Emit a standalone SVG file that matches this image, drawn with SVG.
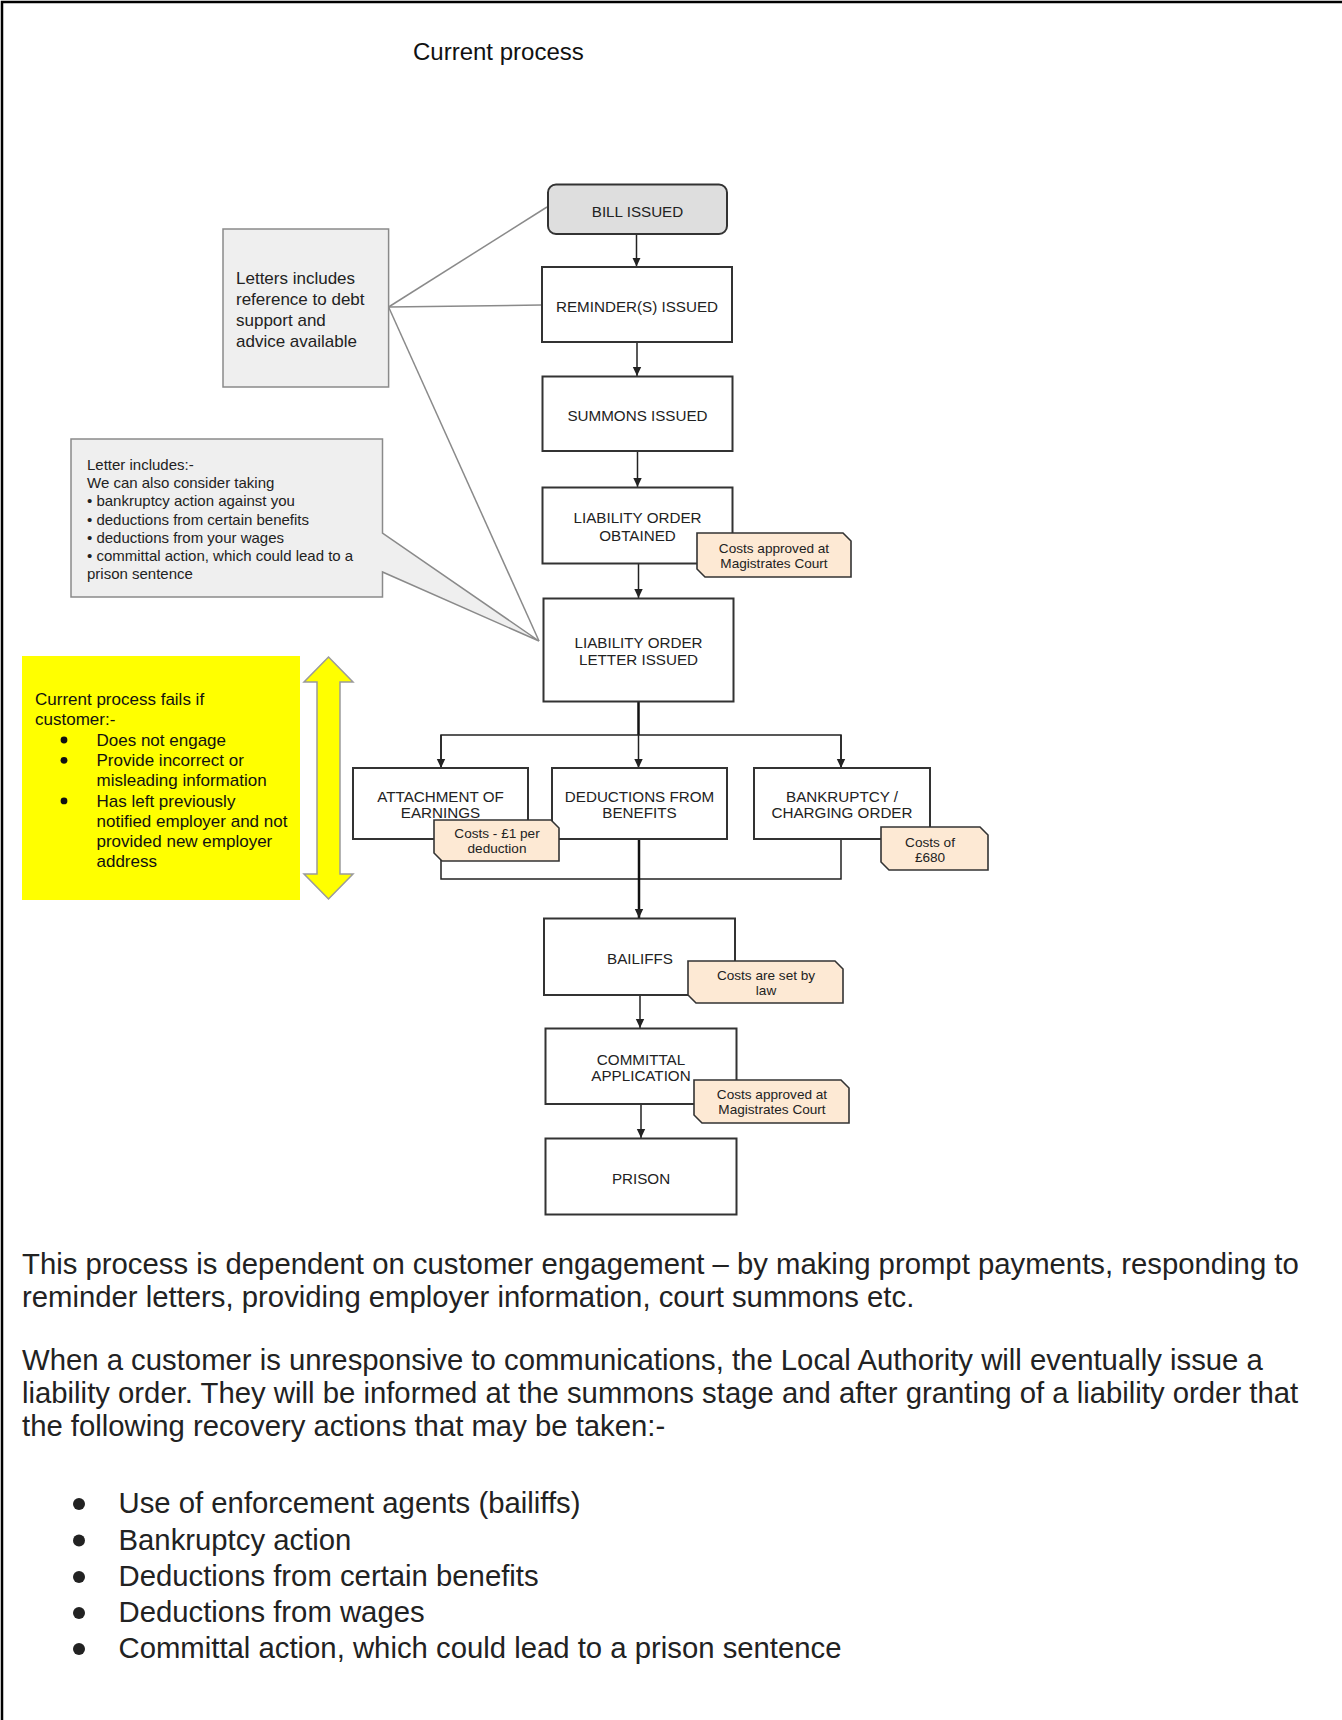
<svg xmlns="http://www.w3.org/2000/svg" width="1342" height="1720" viewBox="0 0 1342 1720">
<style>
  text { font-family: "Liberation Sans", Arial, sans-serif; }
  .box { fill: #ffffff; stroke: #333333; stroke-width: 2; }
  .lbl { font-size: 15.2px; fill: #222222; text-anchor: middle; }
  .note { fill: #fde9d4; stroke: #333333; stroke-width: 1.6; }
  .nt { font-size: 13.6px; fill: #222222; text-anchor: middle; }
  .grey { fill: #efefef; stroke: #8a8a8a; stroke-width: 1.5; }
  .gline { fill: none; stroke: #8a8a8a; stroke-width: 1.5; }
  .conn { fill: none; stroke: #222222; stroke-width: 1.5; }
  .thick { fill: none; stroke: #111111; stroke-width: 2.5; }
  .body { font-size: 29.3px; fill: #222222; }
  .ybox { font-size: 17px; fill: #111111; }
  .call { font-size: 15px; fill: #222222; }
</style>
<defs>
  <marker id="ah" markerUnits="userSpaceOnUse" markerWidth="10" markerHeight="10" refX="9" refY="5" orient="auto">
    <path d="M0,0.8 L9,5 L0,9.2 Z" fill="#222222"/>
  </marker>
</defs>

<path d="M2,1720 V2 H1342" fill="none" stroke="#000000" stroke-width="2.5"/>

<text x="413" y="60" style="font-size:24px;fill:#111111">Current process</text>

<g id="connectors">
  <line class="gline" x1="388.6" y1="307" x2="547" y2="207"/>
  <line class="gline" x1="388.6" y1="307" x2="541.5" y2="305"/>
  <line class="gline" x1="388.6" y1="307" x2="539" y2="641"/>
  <line class="conn" x1="636.5" y1="234" x2="636.5" y2="266.5" marker-end="url(#ah)"/>
  <line class="conn" x1="637" y1="342" x2="637" y2="376" marker-end="url(#ah)"/>
  <line class="conn" x1="637.5" y1="451" x2="637.5" y2="487" marker-end="url(#ah)"/>
  <line class="conn" x1="638.5" y1="563.5" x2="638.5" y2="598" marker-end="url(#ah)"/>
  <line class="thick" x1="638.5" y1="701.5" x2="638.5" y2="735"/>
  <polyline class="conn" points="441,768 441,735 841,735 841,768"/>
  <line class="conn" x1="441" y1="735" x2="441" y2="768" marker-end="url(#ah)"/>
  <line class="conn" x1="841" y1="735" x2="841" y2="768" marker-end="url(#ah)"/>
  <line class="conn" x1="638.5" y1="735" x2="638.5" y2="768" marker-end="url(#ah)"/>
  <polyline class="conn" points="441,839 441,879 841,879 841,839"/>
  <line class="thick" x1="639" y1="839" x2="639" y2="918" marker-end="url(#ah)"/>
  <line class="conn" x1="640" y1="995" x2="640" y2="1028" marker-end="url(#ah)"/>
  <line class="conn" x1="641" y1="1104" x2="641" y2="1138" marker-end="url(#ah)"/>
</g>

<g id="letters-note">
  <rect class="grey" x="223" y="229" width="165.6" height="158"/>
  <text class="ybox" style="fill:#222222" x="236" y="284">Letters includes</text>
  <text class="ybox" style="fill:#222222" x="236" y="305">reference to debt</text>
  <text class="ybox" style="fill:#222222" x="236" y="326">support and</text>
  <text class="ybox" style="fill:#222222" x="236" y="347">advice available</text>
</g>

<g id="letter-callout">
  <path class="grey" d="M71,439 H382.5 V533 L539,641 L382.5,572 V597 H71 Z"/>
  <text class="call" x="87" y="470">Letter includes:-</text>
  <text class="call" x="87" y="488.2">We can also consider taking</text>
  <text class="call" x="87" y="506.4">• bankruptcy action against you</text>
  <text class="call" x="87" y="524.6">• deductions from certain benefits</text>
  <text class="call" x="87" y="542.8">• deductions from your wages</text>
  <text class="call" x="87" y="561">• committal action, which could lead to a</text>
  <text class="call" x="87" y="579.2">prison sentence</text>
</g>

<g id="fails-box">
  <rect x="22" y="656" width="278" height="244" fill="#ffff00"/>
  <text class="ybox" x="35" y="705">Current process fails if</text>
  <text class="ybox" x="35" y="725.3">customer:-</text>
  <circle cx="64" cy="740" r="3.4" fill="#111111"/>
  <text class="ybox" x="96.5" y="745.6">Does not engage</text>
  <circle cx="64" cy="760.3" r="3.4" fill="#111111"/>
  <text class="ybox" x="96.5" y="765.9">Provide incorrect or</text>
  <text class="ybox" x="96.5" y="786.2">misleading information</text>
  <circle cx="64" cy="800.9" r="3.4" fill="#111111"/>
  <text class="ybox" x="96.5" y="806.5">Has left previously</text>
  <text class="ybox" x="96.5" y="826.8">notified employer and not</text>
  <text class="ybox" x="96.5" y="847.1">provided new employer</text>
  <text class="ybox" x="96.5" y="867.4">address</text>
</g>

<g id="double-arrow">
  <path d="M328.5,657 L353,682 L340,682 L340,874 L353,874 L328.5,899 L304,874 L317,874 L317,682 L304,682 Z" fill="#ffff00" stroke="#9a9a9a" stroke-width="1.5"/>
</g>

<g id="bill-issued">
  <rect x="548" y="184.5" width="179" height="49.5" rx="8" fill="#dedede" stroke="#333333" stroke-width="2"/>
  <text class="lbl" x="637.5" y="217">BILL ISSUED</text>
</g>

<g id="reminders-issued">
  <rect class="box" x="542" y="267" width="190" height="75"/>
  <text class="lbl" x="637" y="312">REMINDER(S) ISSUED</text>
</g>

<g id="summons-issued">
  <rect class="box" x="542.5" y="376.5" width="190" height="74.5"/>
  <text class="lbl" x="637.5" y="421">SUMMONS ISSUED</text>
</g>

<g id="liability-order-obtained">
  <rect class="box" x="542.5" y="487.5" width="190" height="76"/>
  <text class="lbl" x="637.5" y="523">LIABILITY ORDER</text>
  <text class="lbl" x="637.5" y="540.5">OBTAINED</text>
</g>

<g id="note-lo-costs">
  <path class="note" d="M697,533 H843 L851,541 V577 H705 L697,569 Z"/>
  <text class="nt" x="774" y="552.5">Costs approved at</text>
  <text class="nt" x="774" y="568">Magistrates Court</text>
</g>

<g id="liability-order-letter">
  <rect class="box" x="543.5" y="598.5" width="190" height="103"/>
  <text class="lbl" x="638.5" y="648">LIABILITY ORDER</text>
  <text class="lbl" x="638.5" y="664.5">LETTER ISSUED</text>
</g>

<g id="attachment-of-earnings">
  <rect class="box" x="353" y="768" width="175" height="71"/>
  <text class="lbl" x="440.5" y="802">ATTACHMENT OF</text>
  <text class="lbl" x="440.5" y="818">EARNINGS</text>
</g>

<g id="deductions-from-benefits">
  <rect class="box" x="552" y="768" width="175" height="71"/>
  <text class="lbl" x="639.5" y="802">DEDUCTIONS FROM</text>
  <text class="lbl" x="639.5" y="818">BENEFITS</text>
</g>

<g id="bankruptcy-charging-order">
  <rect class="box" x="754" y="768" width="176" height="71"/>
  <text class="lbl" x="842" y="802">BANKRUPTCY /</text>
  <text class="lbl" x="842" y="818">CHARGING ORDER</text>
</g>

<g id="note-attachment-costs">
  <path class="note" d="M434,820 H551 L559,828 V861 H442 L434,853 Z"/>
  <text class="nt" x="497" y="838">Costs - £1 per</text>
  <text class="nt" x="497" y="853">deduction</text>
</g>

<g id="note-bankruptcy-costs">
  <path class="note" d="M881,827 H980 L988,835 V870 H889 L881,862 Z"/>
  <text class="nt" x="930" y="847">Costs of</text>
  <text class="nt" x="930" y="862">£680</text>
</g>

<g id="bailiffs">
  <rect class="box" x="544" y="918.5" width="191" height="76.5"/>
  <text class="lbl" x="640" y="963.5">BAILIFFS</text>
</g>

<g id="note-bailiffs-costs">
  <path class="note" d="M688,961 H835 L843,969 V1003 H696 L688,995 Z"/>
  <text class="nt" x="766" y="980">Costs are set by</text>
  <text class="nt" x="766" y="994.5">law</text>
</g>

<g id="committal-application">
  <rect class="box" x="545.5" y="1028.5" width="191" height="75.5"/>
  <text class="lbl" x="641" y="1064.5">COMMITTAL</text>
  <text class="lbl" x="641" y="1080.5">APPLICATION</text>
</g>

<g id="note-committal-costs">
  <path class="note" d="M694,1080 H841 L849,1088 V1123 H702 L694,1115 Z"/>
  <text class="nt" x="772" y="1099">Costs approved at</text>
  <text class="nt" x="772" y="1114">Magistrates Court</text>
</g>

<g id="prison">
  <rect class="box" x="545.5" y="1138.5" width="191" height="76"/>
  <text class="lbl" x="641" y="1183.5">PRISON</text>
</g>

<g id="body-text">
  <text class="body" x="22" y="1274">This process is dependent on customer engagement – by making prompt payments, responding to</text>
  <text class="body" x="22" y="1307">reminder letters, providing employer information, court summons etc.</text>
  <text class="body" x="22" y="1370">When a customer is unresponsive to communications, the Local Authority will eventually issue a</text>
  <text class="body" x="22" y="1403">liability order. They will be informed at the summons stage and after granting of a liability order that</text>
  <text class="body" x="22" y="1436">the following recovery actions that may be taken:-</text>
  <circle cx="79" cy="1504" r="6" fill="#222222"/>
  <text class="body" x="118.5" y="1513">Use of enforcement agents (bailiffs)</text>
  <circle cx="79" cy="1540.5" r="6" fill="#222222"/>
  <text class="body" x="118.5" y="1549.5">Bankruptcy action</text>
  <circle cx="79" cy="1577" r="6" fill="#222222"/>
  <text class="body" x="118.5" y="1586">Deductions from certain benefits</text>
  <circle cx="79" cy="1613" r="6" fill="#222222"/>
  <text class="body" x="118.5" y="1622">Deductions from wages</text>
  <circle cx="79" cy="1649" r="6" fill="#222222"/>
  <text class="body" x="118.5" y="1658">Committal action, which could lead to a prison sentence</text>
</g>
</svg>
